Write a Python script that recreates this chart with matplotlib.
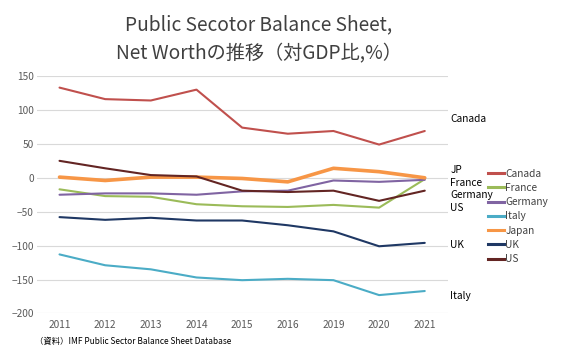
import matplotlib
matplotlib.use("Agg")
import matplotlib.pyplot as plt
from matplotlib.lines import Line2D

plt.rcParams['font.family'] = ['Noto Sans CJK JP', 'DejaVu Sans']

years = ["2011", "2012", "2013", "2014", "2015", "2016", "2019", "2020", "2021"]
canada = [133, 116, 114, 130, 74, 65, 69, 49, 69]
france = [-17, -27, -28, -39, -42, -43, -40, -44, -2]
germany = [-25, -23, -23, -25, -20, -19, -4, -6, -3]
italy = [-113, -129, -135, -147, -151, -149, -151, -173, -167]
japan = [1, -4, 1, 1, -1, -6, 14, 9, 0]
uk = [-58, -62, -59, -63, -63, -70, -79, -101, -96]
us = [25, 14, 4, 2, -19, -21, -19, -34, -19]

series = [
    ("Canada", canada, "#C0504D", 1.5),
    ("France", france, "#9BBB59", 1.5),
    ("Germany", germany, "#8064A2", 1.5),
    ("Italy", italy, "#4BACC6", 1.5),
    ("Japan", japan, "#F79646", 2.6),
    ("UK", uk, "#1F3864", 1.5),
    ("US", us, "#632523", 1.5),
]

end_labels = [("Canada", 86), ("JP", 12), ("France", -7), ("Germany", -26), ("US", -44),
              ("UK", -99), ("Italy", -175)]

fig = plt.figure(figsize=(5.68, 3.64), dpi=100)
ax = fig.add_axes([0.0646, 0.139, 0.7234, 0.652])

x = list(range(len(years)))
for name, vals, col, lw in series:
    ax.plot(x, vals, color=col, lw=lw, solid_capstyle='round', label=name)

ax.set_xlim(-0.5, len(years) - 0.5)
ax.set_ylim(-200, 150)
ax.set_yticks(range(-200, 151, 50))
ax.set_xticks(x)
ax.set_xticklabels(years)
ax.yaxis.grid(True, color="#D9D9D9", lw=0.8)
ax.set_axisbelow(True)
for s in ax.spines.values():
    s.set_visible(False)
ax.tick_params(length=0, labelsize=7.3, colors="#595959", pad=5)
ax.tick_params(axis='y', pad=2)

for txt, yv in end_labels:
    ax.text(len(years) - 0.5 + 0.06, yv, txt, fontsize=7.3, color="#000000",
            va='center', ha='left', clip_on=False)

handles = [Line2D([0], [0], color=c, lw=2.2) for _, _, c, _ in series]
fig.legend(handles, [n for n, _, _, _ in series], loc='upper left',
           bbox_to_anchor=(0.852, 0.548), frameon=False, fontsize=7.3,
           handlelength=1.6, handletextpad=0.1, labelspacing=0.42,
           borderaxespad=0, labelcolor="#404040")

fig.text(0.456, 0.933, "Public Secotor Balance Sheet,", ha='center', va='center',
         fontsize=13.8, color="#404040")
fig.text(0.456, 0.851, "Net Worthの推移（対GDP比,%）", ha='center', va='center',
         fontsize=13.8, color="#404040")
fig.text(0.062, 0.062, "（資料）IMF Public Sector Balance Sheet Database", ha='left',
         va='center', fontsize=6, color="#000000")

fig.savefig("out.png", dpi=100, facecolor="white")
